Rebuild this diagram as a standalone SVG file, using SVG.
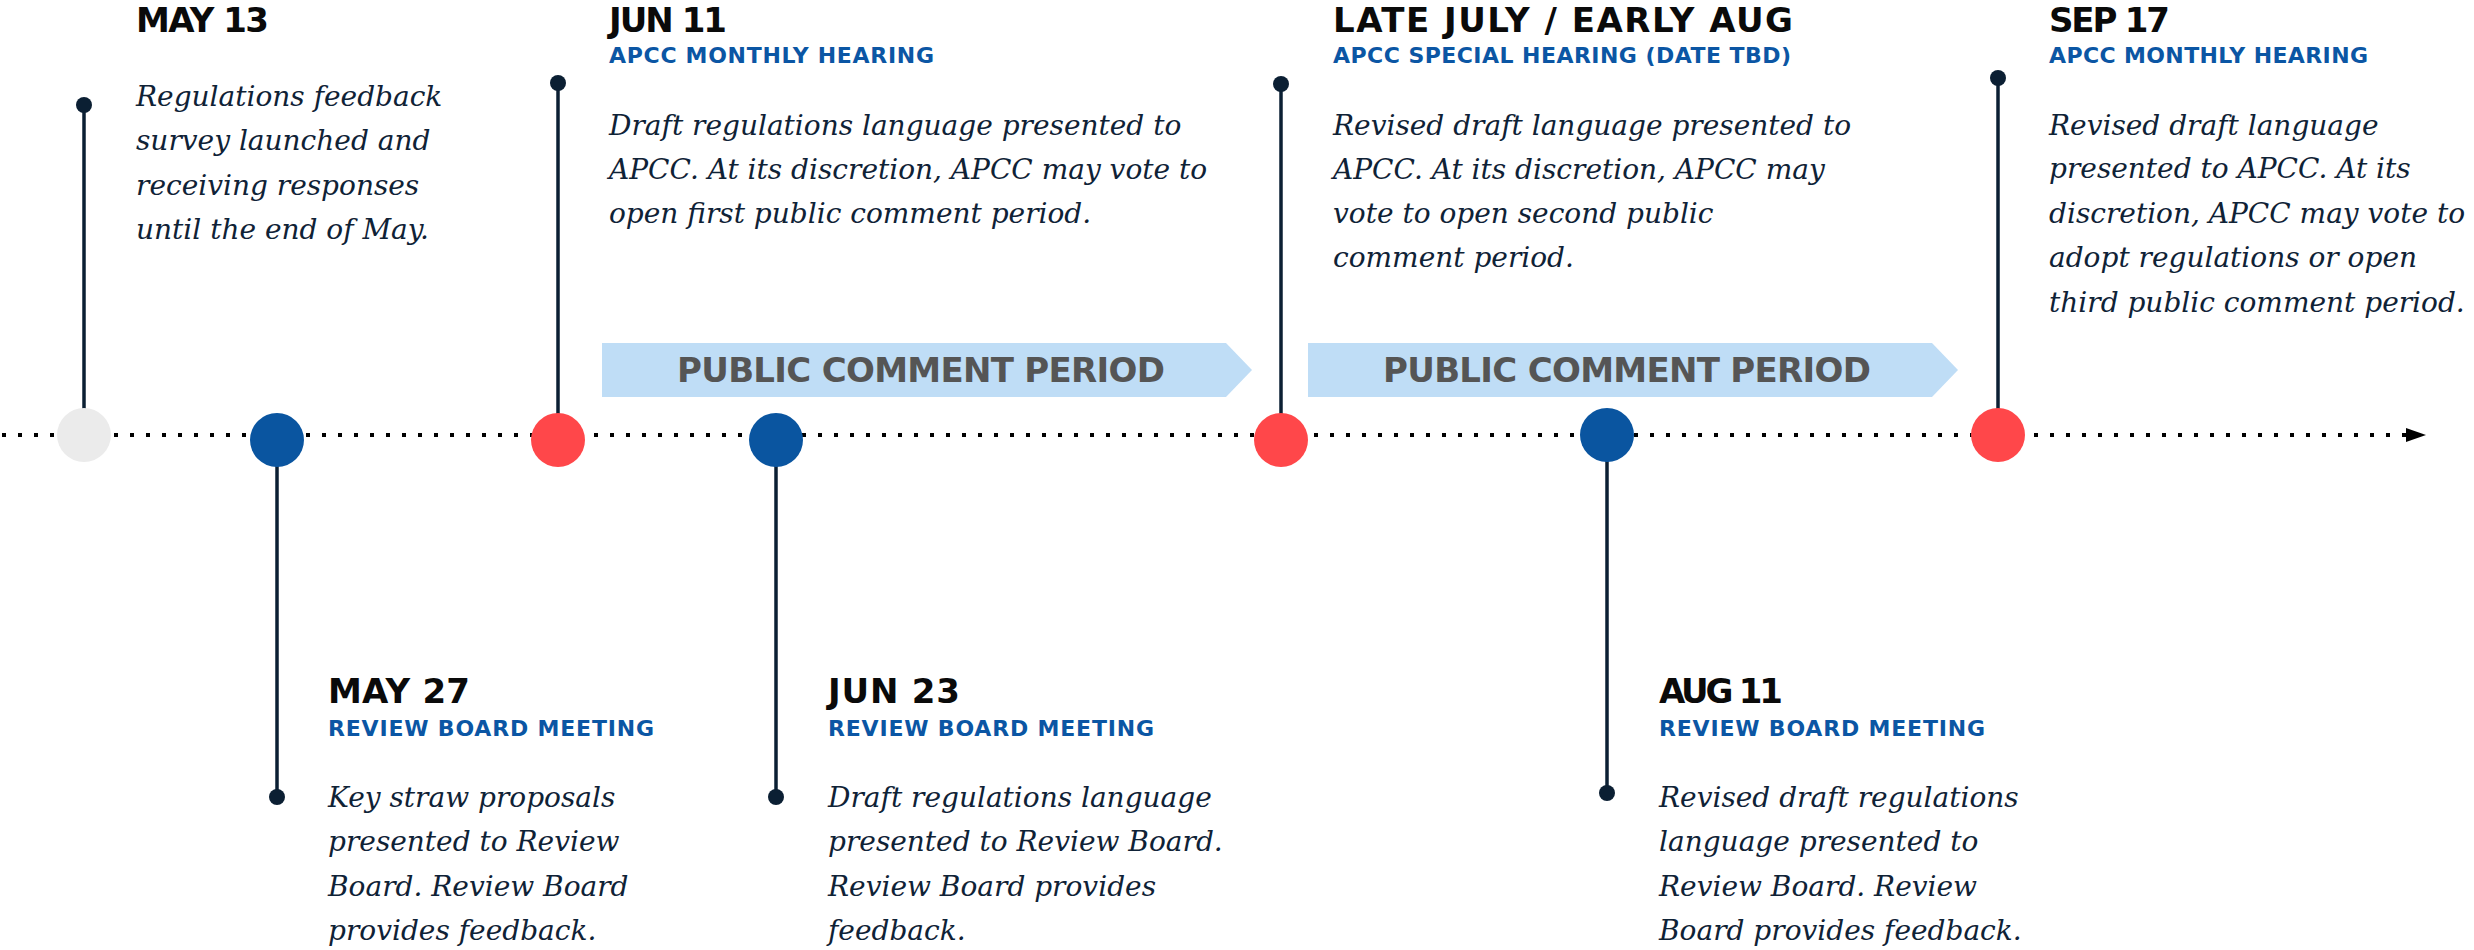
<svg xmlns="http://www.w3.org/2000/svg" width="2474" height="950" viewBox="0 0 2474 950">
<defs>
<style>
.hd{font-family:"DejaVu Sans","Liberation Sans",sans-serif;font-weight:700;font-size:34px;fill:#0a0a0a}
.sub{font-family:"DejaVu Sans","Liberation Sans",sans-serif;font-weight:700;font-size:22px;fill:#0b56a4}
.bd{font-family:"DejaVu Serif","Liberation Serif",serif;font-style:italic;font-size:28px;fill:#0f2236}
.stem{stroke:#0b1f33;stroke-width:3.5;fill:none}
.tip{fill:#0b1f33}
.bar{fill:#bfddf6}
.bartx{font-family:"DejaVu Sans","Liberation Sans",sans-serif;font-weight:700;font-size:34px;fill:#555555;text-anchor:middle}
.red{fill:#ff474a}.blue{fill:#0a55a0}.grey{fill:#ebebeb}
</style>
<marker id="arr" markerWidth="20" markerHeight="14" refX="0" refY="7" orient="auto" markerUnits="userSpaceOnUse">
<path d="M0,0 L20,7 L0,14 Z" fill="#000"/>
</marker>
</defs>
<rect width="2474" height="950" fill="#ffffff"/>
<g id="connectors">
<line x1="2" y1="435" x2="2406" y2="435" stroke="#000" stroke-width="4" stroke-dasharray="4 12" marker-end="url(#arr)"/>
<line class="stem" x1="84" y1="105" x2="84" y2="435"/>
<line class="stem" x1="558" y1="83" x2="558" y2="440"/>
<line class="stem" x1="1281" y1="84" x2="1281" y2="440"/>
<line class="stem" x1="1998" y1="78" x2="1998" y2="435"/>
<line class="stem" x1="277" y1="440" x2="277" y2="797"/>
<line class="stem" x1="776" y1="440" x2="776" y2="797"/>
<line class="stem" x1="1607" y1="435" x2="1607" y2="793"/>
</g>
<g id="banner1"><path class="bar" d="M602,343 L1226,343 L1252,370 L1226,397 L602,397 Z"/><text class="bartx" x="921" y="382" textLength="488">PUBLIC COMMENT PERIOD</text></g>
<g id="banner2"><path class="bar" d="M1308,343 L1932,343 L1958,370 L1932,397 L1308,397 Z"/><text class="bartx" x="1627" y="382" textLength="488">PUBLIC COMMENT PERIOD</text></g>
<g id="may13">
<circle class="grey" cx="84" cy="435" r="27"/><circle class="tip" cx="84" cy="105" r="8"/>
<text class="hd" x="136" y="32" textLength="133">MAY 13</text>
<text class="bd" x="136" y="106">Regulations feedback</text>
<text class="bd" x="136" y="150">survey launched and</text>
<text class="bd" x="136" y="195">receiving responses</text>
<text class="bd" x="136" y="239">until the end of May.</text>
</g>
<g id="may27">
<circle class="blue" cx="277" cy="440" r="27"/><circle class="tip" cx="277" cy="797" r="8"/>
<text class="hd" x="328" y="703" textLength="142">MAY 27</text>
<text class="sub" x="328" y="736" textLength="326">REVIEW BOARD MEETING</text>
<text class="bd" x="328" y="807">Key straw proposals</text>
<text class="bd" x="328" y="851">presented to Review</text>
<text class="bd" x="328" y="896">Board. Review Board</text>
<text class="bd" x="328" y="940">provides feedback.</text>
</g>
<g id="jun11">
<circle class="red" cx="558" cy="440" r="27"/><circle class="tip" cx="558" cy="83" r="8"/>
<text class="hd" x="609" y="32" textLength="118">JUN 11</text>
<text class="sub" x="609" y="63" textLength="325">APCC MONTHLY HEARING</text>
<text class="bd" x="609" y="135">Draft regulations language presented to</text>
<text class="bd" x="609" y="179">APCC. At its discretion, APCC may vote to</text>
<text class="bd" x="609" y="223">open first public comment period.</text>
</g>
<g id="jun23">
<circle class="blue" cx="776" cy="440" r="27"/><circle class="tip" cx="776" cy="797" r="8"/>
<text class="hd" x="828" y="703" textLength="132">JUN 23</text>
<text class="sub" x="828" y="736" textLength="326">REVIEW BOARD MEETING</text>
<text class="bd" x="828" y="807">Draft regulations language</text>
<text class="bd" x="828" y="851">presented to Review Board.</text>
<text class="bd" x="828" y="896">Review Board provides</text>
<text class="bd" x="828" y="940">feedback.</text>
</g>
<g id="latejuly">
<circle class="red" cx="1281" cy="440" r="27"/><circle class="tip" cx="1281" cy="84" r="8"/>
<text class="hd" x="1333" y="32" textLength="460">LATE JULY / EARLY AUG</text>
<text class="sub" x="1333" y="63" textLength="458">APCC SPECIAL HEARING (DATE TBD)</text>
<text class="bd" x="1333" y="135">Revised draft language presented to</text>
<text class="bd" x="1333" y="179">APCC. At its discretion, APCC may</text>
<text class="bd" x="1333" y="223">vote to open second public</text>
<text class="bd" x="1333" y="267">comment period.</text>
</g>
<g id="aug11">
<circle class="blue" cx="1607" cy="435" r="27"/><circle class="tip" cx="1607" cy="793" r="8"/>
<text class="hd" x="1659" y="703" textLength="124">AUG 11</text>
<text class="sub" x="1659" y="736" textLength="326">REVIEW BOARD MEETING</text>
<text class="bd" x="1659" y="807">Revised draft regulations</text>
<text class="bd" x="1659" y="851">language presented to</text>
<text class="bd" x="1659" y="896">Review Board. Review</text>
<text class="bd" x="1659" y="940">Board provides feedback.</text>
</g>
<g id="sep17">
<circle class="red" cx="1998" cy="435" r="27"/><circle class="tip" cx="1998" cy="78" r="8"/>
<text class="hd" x="2049" y="32" textLength="121">SEP 17</text>
<text class="sub" x="2049" y="63" textLength="319">APCC MONTHLY HEARING</text>
<text class="bd" x="2049" y="135">Revised draft language</text>
<text class="bd" x="2049" y="178">presented to APCC. At its</text>
<text class="bd" x="2049" y="223">discretion, APCC may vote to</text>
<text class="bd" x="2049" y="267">adopt regulations or open</text>
<text class="bd" x="2049" y="312">third public comment period.</text>
</g>
</svg>
